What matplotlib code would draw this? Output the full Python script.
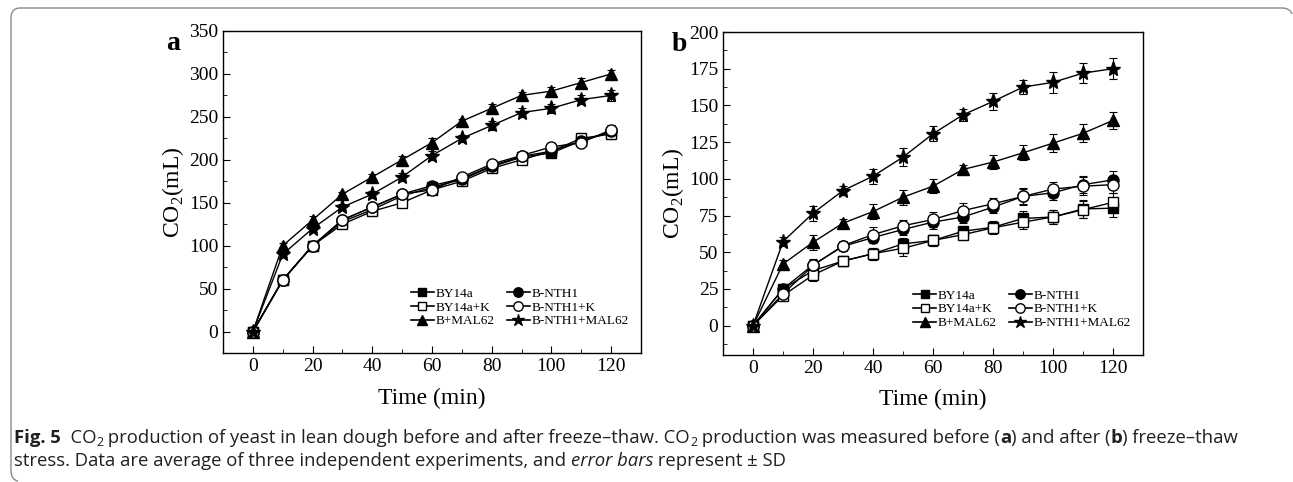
#!/usr/bin/env python3
"""CO2 production of yeast in lean dough before / after freeze-thaw (Fig. 5)."""
import matplotlib
matplotlib.use("Agg")
import matplotlib.pyplot as plt
from matplotlib.lines import Line2D
from matplotlib.path import Path
from matplotlib.patches import PathPatch
from matplotlib.transforms import IdentityTransform
from matplotlib.ticker import MultipleLocator

plt.rcParams["font.family"] = ["Liberation Serif", "DejaVu Serif"]
plt.rcParams["mathtext.fontset"] = "custom"
plt.rcParams["mathtext.rm"] = "Liberation Serif"

time_min = [0, 10, 20, 30, 40, 50, 60, 70, 80, 90, 100, 110, 120]
labels = ["BY14a", "BY14a+K", "B+MAL62", "B-NTH1", "B-NTH1+K", "B-NTH1+MAL62"]

# panel a: before freeze-thaw
a_by14a = [0, 60, 100, 128, 142, 158, 168, 177, 192, 203, 208, 222, 232]
a_by14a_k = [0, 60, 100, 125, 140, 150, 165, 175, 190, 200, 210, 225, 230]
a_mal62 = [0, 100, 130, 160, 180, 200, 220, 245, 260, 275, 280, 290, 300]
a_nth1 = [0, 60, 100, 130, 145, 160, 170, 178, 193, 204, 210, 222, 233]
a_nth1_k = [0, 60, 100, 130, 145, 160, 165, 180, 195, 205, 215, 220, 235]
a_nth1_mal62 = [0, 90, 120, 145, 160, 180, 205, 225, 240, 255, 260, 270, 275]
a_err = [
    [1, 3, 3, 3, 4, 4, 3, 4, 4, 4, 4, 5, 6],
    [1, 3, 3, 4, 4, 5, 4, 4, 4, 4, 4, 5, 6],
    [1, 3, 4, 3, 4, 4, 5, 3, 5, 4, 5, 5, 5],
    [1, 3, 3, 3, 4, 4, 4, 4, 4, 4, 4, 5, 5],
    [1, 3, 3, 3, 4, 4, 4, 4, 4, 4, 4, 5, 5],
    [1, 3, 4, 4, 4, 5, 5, 4, 5, 5, 5, 5, 6],
]

# panel b: after freeze-thaw
b_by14a = [0, 25, 37.5, 44, 49, 55.7, 58, 64.3, 67, 73, 74, 79.5, 80]
b_by14a_k = [0, 20.5, 34.5, 44, 49, 52.7, 58, 62, 66.6, 70.5, 74, 79, 84]
b_mal62 = [0, 42, 56.8, 69.8, 77.7, 87.5, 95, 106.4, 111.4, 117.7, 124.3, 131, 139.8]
b_nth1 = [0, 25, 41.4, 54, 60, 65.5, 70.5, 74, 80.7, 88, 90.5, 96, 99.3]
b_nth1_k = [0, 21.6, 41, 54.5, 62, 68, 72.3, 78.4, 83, 88, 93, 95, 96]
b_nth1_mal62 = [0, 57.3, 76.6, 92, 101.8, 114.8, 130.7, 143.6, 152.7, 162.5, 165.7, 172, 175]
b_err = [
    [1, 2, 4, 3, 4, 4, 4, 3, 4, 5, 5, 6, 6],
    [1, 2, 4, 3, 4, 5, 4, 3, 4, 5, 5, 6, 6],
    [1, 3, 5, 3, 5, 5, 5, 3, 5, 5, 6, 6, 6],
    [1, 2, 4, 3, 4, 4, 5, 4, 4, 5, 5, 6, 6],
    [1, 2, 4, 3, 5, 4, 5, 5, 4, 6, 5, 6, 6],
    [1, 3, 5, 3, 5, 6, 5, 4, 6, 5, 7, 7, 7],
]

markers = ["s", "s", "^", "o", "o", "*"]
facecols = ["black", "white", "black", "black", "white", "black"]
msizes = [7.5, 7.5, 8, 8, 8, 11]


def draw_panel(ax, series, errs, ylim, ymajor, letter, letter_x):
    handles = []
    for vals, err, lab, mk, fc, ms in zip(series, errs, labels, markers, facecols, msizes):
        ax.errorbar(time_min, vals, yerr=err, color="black", lw=1.0, marker=mk, mfc=fc,
                    mec="black", ms=ms, capsize=3, elinewidth=0.8, capthick=0.8)
        handles.append(Line2D([], [], color="black", lw=1.2, marker=mk, mfc=fc,
                              mec="black", ms=ms * 0.85, label=lab))
    ax.set_xlim(-10, 130)
    ax.set_ylim(*ylim)
    ax.xaxis.set_major_locator(MultipleLocator(20))
    ax.xaxis.set_minor_locator(MultipleLocator(10))
    ax.yaxis.set_major_locator(MultipleLocator(ymajor))
    ax.yaxis.set_minor_locator(MultipleLocator(ymajor / 2))
    ax.tick_params(which="both", direction="in", top=False, right=False, labelsize=14)
    ax.tick_params(which="major", length=5)
    ax.tick_params(which="minor", length=3)
    ax.set_xlabel("Time (min)", fontsize=17, labelpad=9)
    ax.set_ylabel(r"CO$_2$(mL)", fontsize=17, labelpad=2)
    for sp in ax.spines.values():
        sp.set_linewidth(1.0)
    ax.legend(handles=handles, ncol=2, loc="lower right", bbox_to_anchor=(0.99, 0.055),
              frameon=False, fontsize=9.5, handlelength=1.8, handletextpad=0.1,
              columnspacing=0.9, labelspacing=0.12, borderaxespad=0.2)
    ax.text(letter_x, ylim[1], letter, fontsize=20, fontweight="bold", ha="left", va="top",
            transform=ax.transData)


fig = plt.figure(figsize=(12.93, 4.82), dpi=100)
ax_a = fig.add_axes([0.1725, 0.2676, 0.3232, 0.6681])
ax_b = fig.add_axes([0.5592, 0.2635, 0.3248, 0.6701])
draw_panel(ax_a, [a_by14a, a_by14a_k, a_mal62, a_nth1, a_nth1_k, a_nth1_mal62],
           a_err, (-25, 350), 50, "a", -29)
draw_panel(ax_b, [b_by14a, b_by14a_k, b_mal62, b_nth1, b_nth1_k, b_nth1_mal62],
           b_err, (-20, 200), 25, "b", -27)

# rounded caption box (open on right / bottom like the source crop)
H = 482
box = Path(
    [(1292, H - 14), (1290, H - 8), (1282, H - 8), (20, H - 8), (11, H - 8), (11, H - 18),
     (11, H - 470), (11, H - 480), (18, H - 481)],
    [Path.MOVETO, Path.CURVE3, Path.CURVE3, Path.LINETO, Path.CURVE3, Path.CURVE3,
     Path.LINETO, Path.CURVE3, Path.CURVE3],
)
fig.add_artist(PathPatch(box, transform=IdentityTransform(), fill=False,
                         edgecolor="#8a8a8a", lw=1.0))

cap_font = ["Open Sans", "DejaVu Sans"]
renderer = fig.canvas.get_renderer()


def rich_line(x, y, pieces):
    for txt, kw in pieces:
        size = kw.pop("size", 13.3)
        dy = kw.pop("dy", 0)
        t = fig.text(x, y + dy, txt, transform=IdentityTransform(), family=cap_font,
                     fontsize=size, color="#231f20", va="baseline", ha="left", **kw)
        x = t.get_window_extent(renderer).x1


sub = dict(size=9, dy=-3)
rich_line(14, H - 443, [
    ("Fig. 5", dict(fontweight="bold")),
    ("  CO", {}), ("2", dict(sub)),
    (" production of yeast in lean dough before and after freeze\u2013thaw. CO", {}),
    ("2", dict(sub)),
    (" production was measured before (", {}), ("a", dict(fontweight="bold")),
    (") and after (", {}), ("b", dict(fontweight="bold")), (") freeze\u2013thaw", {}),
])
rich_line(14, H - 466, [
    ("stress. Data are average of three independent experiments, and ", {}),
    ("error bars", dict(style="italic")), (" represent \u00b1 SD", {}),
])

fig.savefig("out.png", dpi=100, facecolor="white")
